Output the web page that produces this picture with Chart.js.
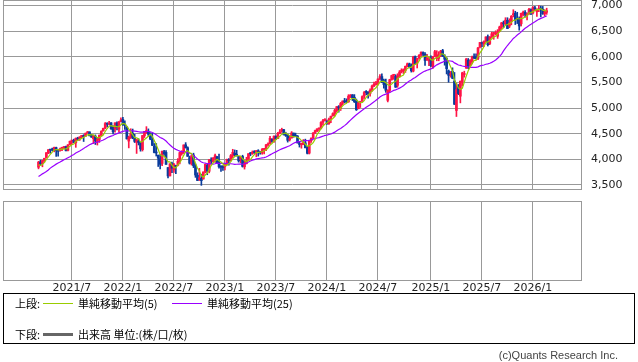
<!DOCTYPE html>
<html><head><meta charset="utf-8">
<script src="https://cdn.jsdelivr.net/npm/chart.js@4"></script>
<style>
html,body{margin:0;padding:0;background:#fff;width:638px;height:362px;overflow:hidden;position:relative}
canvas{position:absolute;left:0}
#c1{top:0}
#c2{top:195px}
.box{position:absolute;left:3px;top:293px;width:630px;height:49px;border:1px solid #000;box-sizing:content-box}
.t{position:absolute;font:11px 'Noto Sans CJK JP',sans-serif;color:#000;line-height:13px;white-space:nowrap}
.ln{position:absolute;height:1px}
.copy{position:absolute;right:20px;top:349px;font:11px 'Liberation Sans',sans-serif;color:#444;line-height:13px}
</style></head>
<body>
<canvas id="c1" width="638" height="195"></canvas>
<canvas id="c2" width="638" height="105"></canvas>
<div class="box"></div>
<div class="t" style="left:15px;top:297px">上段:</div>
<div class="ln" style="left:43px;top:303px;width:30px;background:#99cc00"></div>
<div class="t" style="left:78px;top:297px">単純移動平均(5)</div>
<div class="ln" style="left:172px;top:303px;width:30px;background:#9900ff"></div>
<div class="t" style="left:207px;top:297px">単純移動平均(25)</div>
<div class="t" style="left:15px;top:328px">下段:</div>
<div class="ln" style="left:43px;top:333px;width:30px;height:3px;background:#666"></div>
<div class="t" style="left:78px;top:328px">出来高 単位:(株/口/枚)</div>
<div class="copy">(c)Quants Research Inc.</div>
<script>
// Weekly candles (week starting Monday)
const weeks = [
'2021-03-08','2021-03-15','2021-03-22','2021-03-29','2021-04-05','2021-04-12','2021-04-19','2021-04-26','2021-05-03','2021-05-10','2021-05-17','2021-05-24','2021-05-31','2021-06-07','2021-06-14','2021-06-21','2021-06-28','2021-07-05','2021-07-12','2021-07-19','2021-07-26','2021-08-02','2021-08-09','2021-08-16','2021-08-23','2021-08-30','2021-09-06','2021-09-13','2021-09-20','2021-09-27','2021-10-04','2021-10-11','2021-10-18','2021-10-25','2021-11-01','2021-11-08','2021-11-15','2021-11-22','2021-11-29','2021-12-06','2021-12-13','2021-12-20','2021-12-27',
'2022-01-03','2022-01-10','2022-01-17','2022-01-24','2022-01-31','2022-02-07','2022-02-14','2022-02-21','2022-02-28','2022-03-07','2022-03-14','2022-03-21','2022-03-28','2022-04-04','2022-04-11','2022-04-18','2022-04-25','2022-05-02','2022-05-09','2022-05-16','2022-05-23','2022-05-30','2022-06-06','2022-06-13','2022-06-20','2022-06-27','2022-07-04','2022-07-11','2022-07-18','2022-07-25','2022-08-01','2022-08-08','2022-08-15','2022-08-22','2022-08-29','2022-09-05','2022-09-12','2022-09-19','2022-09-26','2022-10-03','2022-10-10','2022-10-17','2022-10-24','2022-10-31','2022-11-07','2022-11-14','2022-11-21','2022-11-28','2022-12-05','2022-12-12','2022-12-19','2022-12-26',
'2023-01-02','2023-01-09','2023-01-16','2023-01-23','2023-01-30','2023-02-06','2023-02-13','2023-02-20','2023-02-27','2023-03-06','2023-03-13','2023-03-20','2023-03-27','2023-04-03','2023-04-10','2023-04-17','2023-04-24','2023-05-01','2023-05-08','2023-05-15','2023-05-22','2023-05-29','2023-06-05','2023-06-12','2023-06-19','2023-06-26','2023-07-03','2023-07-10','2023-07-17','2023-07-24','2023-07-31','2023-08-07','2023-08-14','2023-08-21','2023-08-28','2023-09-04','2023-09-11','2023-09-18','2023-09-25','2023-10-02','2023-10-09','2023-10-16','2023-10-23','2023-10-30','2023-11-06','2023-11-13','2023-11-20','2023-11-27','2023-12-04','2023-12-11','2023-12-18','2023-12-25',
'2024-01-01','2024-01-08','2024-01-15','2024-01-22','2024-01-29','2024-02-05','2024-02-12','2024-02-19','2024-02-26','2024-03-04','2024-03-11','2024-03-18','2024-03-25','2024-04-01','2024-04-08','2024-04-15','2024-04-22','2024-04-29','2024-05-06','2024-05-13','2024-05-20','2024-05-27','2024-06-03','2024-06-10','2024-06-17','2024-06-24','2024-07-01','2024-07-08','2024-07-15','2024-07-22','2024-07-29','2024-08-05','2024-08-12','2024-08-19','2024-08-26','2024-09-02','2024-09-09','2024-09-16','2024-09-23','2024-09-30','2024-10-07','2024-10-14','2024-10-21','2024-10-28','2024-11-04','2024-11-11','2024-11-18','2024-11-25','2024-12-02','2024-12-09','2024-12-16','2024-12-23','2024-12-30',
'2025-01-06','2025-01-13','2025-01-20','2025-01-27','2025-02-03','2025-02-10','2025-02-17','2025-02-24','2025-03-03','2025-03-10','2025-03-17','2025-03-24','2025-03-31','2025-04-07','2025-04-14','2025-04-21','2025-04-28','2025-05-05','2025-05-12','2025-05-19','2025-05-26','2025-06-02','2025-06-09','2025-06-16','2025-06-23','2025-06-30','2025-07-07','2025-07-14','2025-07-21','2025-07-28','2025-08-04','2025-08-11','2025-08-18','2025-08-25','2025-09-01','2025-09-08','2025-09-15','2025-09-22','2025-09-29','2025-10-06','2025-10-13','2025-10-20','2025-10-27','2025-11-03','2025-11-10','2025-11-17','2025-11-24','2025-12-01','2025-12-08','2025-12-15','2025-12-22','2025-12-29',
'2026-01-05','2026-01-12','2026-01-19','2026-01-26','2026-02-02','2026-02-09','2026-02-16','2026-02-23'];

const opens = [
3844,3949,3917,3975,4034,4124,4185,4185,4192,4228,4169,4168,4216,4230,4248,4174,4290,4356,4372,4320,4409,4406,4439,4462,4450,4513,4535,4469,4402,4450,4349,4385,4472,4553,4610,4697,4689,4712,4640,4592,4710,4587,4733,
4778,4666,4632,4356,4431,4505,4412,4332,4354,4323,4188,4462,4541,4547,4474,4385,4253,4130,4081,4013,3919,4148,4134,3838,3675,3913,3792,3880,3883,3966,4112,4155,4282,4226,4034,3910,4083,3871,3687,3610,3627,3614,3754,3881,3765,3982,3956,4019,4053,3954,3853,3843,
3853,3911,3999,3979,4070,4119,4096,4053,3988,4055,3853,3917,3982,4109,4110,4140,4134,4166,4128,4126,4190,4200,4282,4308,4396,4354,4450,4405,4502,4555,4578,4479,4468,4380,4416,4511,4458,4453,4310,4284,4289,4320,4225,4120,4364,4416,4511,4555,4594,4610,4725,4758,
4745,4697,4781,4848,4892,4950,5026,4988,5094,5135,5124,5123,5234,5257,5211,5149,4987,5114,5142,5233,5311,5316,5283,5341,5432,5459,5472,5573,5615,5535,5476,5151,5344,5558,5640,5623,5443,5612,5712,5726,5737,5820,5862,5827,5722,6005,5875,5982,6040,6085,6054,5941,
5920,5982,5801,6014,5969,5970,6046,6120,6014,5969,5725,5655,5718,5528,4953,5412,5232,5508,5655,5781,5938,5828,5897,6004,6004,5969,6193,6270,6255,6304,6393,6260,6397,6455,6445,6402,6498,6584,6661,6648,6713,6600,6690,6822,6851,6744,6730,6645,6826,6870,6815,6840,6925,6860,6950,6880,6920,6940,6930,6840,6870];

const highs = [
3960,3983,3978,4020,4129,4191,4194,4218,4238,4237,4188,4218,4234,4249,4258,4286,4356,4372,4393,4416,4430,4440,4468,4480,4513,4545,4536,4486,4465,4476,4429,4475,4559,4608,4718,4714,4743,4717,4652,4713,4731,4740,4808,
4818,4749,4632,4453,4596,4590,4489,4385,4402,4324,4465,4546,4637,4593,4520,4512,4308,4307,4081,4090,4158,4177,4168,3838,3913,3945,3919,3881,4013,4140,4167,4280,4325,4244,4062,4076,4119,3907,3736,3823,3710,3753,3907,3912,3993,4029,4034,4101,4053,4101,3876,3878,
3906,4003,4015,4094,4195,4182,4175,4054,4048,4079,3962,4039,4110,4133,4163,4169,4170,4187,4154,4212,4212,4290,4322,4448,4400,4458,4456,4528,4579,4607,4584,4528,4491,4459,4541,4513,4511,4465,4333,4317,4385,4393,4256,4366,4415,4521,4568,4595,4609,4738,4778,4794,
4755,4802,4842,4907,4975,5030,5048,5111,5140,5189,5180,5262,5264,5264,5263,5176,5114,5128,5239,5325,5342,5316,5375,5448,5505,5524,5570,5655,5670,5566,5566,5358,5563,5643,5651,5651,5670,5733,5767,5765,5822,5879,5878,5863,6012,6018,5972,6044,6099,6100,6085,6050,
5993,6022,6012,6128,6120,6101,6127,6147,6043,5986,5743,5715,5786,5695,5482,5460,5528,5700,5720,5969,5968,5946,6016,6059,6060,6187,6284,6290,6315,6390,6428,6395,6481,6478,6509,6532,6600,6672,6699,6764,6764,6744,6808,6920,6890,6870,6780,6855,6895,6901,6860,6945,6940,6980,6986,6940,7002,6990,6985,6920,6950];

const lows = [
3813,3885,3853,3943,4028,4109,4118,4164,4145,4056,4061,4156,4168,4203,4165,4164,4279,4292,4321,4233,4366,4368,4420,4347,4444,4513,4456,4427,4306,4288,4278,4329,4461,4551,4596,4630,4672,4585,4495,4531,4572,4531,4733,
4662,4582,4395,4222,4405,4401,4327,4114,4279,4158,4161,4424,4506,4450,4381,4267,4124,4063,3859,3811,3875,4074,3900,3637,3675,3738,3742,3721,3872,3910,4079,4112,4218,4057,3906,3886,3837,3647,3584,3584,3491,3614,3733,3698,3735,3906,3938,3940,3918,3827,3765,3783,
3794,3887,3886,3966,4032,4061,4061,3944,3928,3847,3808,3908,3971,4069,4095,4113,4049,4062,4099,4098,4103,4166,4258,4301,4328,4328,4385,4403,4499,4527,4474,4446,4335,4356,4414,4431,4446,4316,4238,4216,4283,4223,4104,4103,4329,4406,4507,4537,4547,4593,4668,4751,
4682,4682,4714,4842,4846,4919,4920,4953,5057,5098,5104,5111,5204,5146,5108,4953,4984,5011,5114,5186,5257,5191,5234,5325,5420,5447,5447,5552,5497,5390,5307,5120,5306,5543,5560,5403,5406,5604,5686,5674,5696,5805,5782,5702,5706,5853,5783,5956,6015,6024,5833,5932,
5829,5809,5773,6004,5923,5923,6003,6008,5837,5666,5505,5602,5572,5069,4835,5262,5101,5434,5603,5773,5768,5825,5862,5963,5953,5943,6176,6201,6201,6282,6212,6238,6376,6343,6427,6360,6494,6551,6570,6621,6550,6570,6625,6780,6631,6650,6521,6602,6799,6777,6720,6830,6825,6840,6900,6790,6880,6780,6830,6800,6830];

const closes = [
3943,3913,3975,4020,4129,4185,4180,4181,4233,4174,4156,4204,4230,4247,4166,4281,4352,4370,4327,4411,4395,4437,4468,4442,4509,4535,4458,4433,4455,4357,4391,4471,4545,4605,4697,4683,4698,4595,4538,4712,4621,4726,4766,
4677,4663,4398,4432,4501,4418,4349,4385,4329,4204,4463,4543,4546,4488,4393,4272,4132,4123,4024,3901,4158,4109,3901,3675,3912,3825,3899,3863,3962,4130,4145,4280,4228,4057,3924,4067,3873,3693,3586,3640,3583,3753,3901,3771,3993,3965,4026,4072,3934,3852,3845,3840,
3895,3999,3973,4071,4136,4090,4079,3970,4045,3861,3917,3971,4109,4105,4138,4133,4169,4136,4124,4192,4205,4282,4299,4410,4348,4450,4399,4505,4536,4582,4478,4464,4370,4406,4515,4457,4450,4320,4288,4309,4327,4224,4117,4358,4415,4514,4559,4595,4604,4719,4755,4770,
4697,4784,4840,4891,4959,5027,5006,5089,5137,5124,5117,5234,5254,5204,5123,4967,5100,5128,5223,5303,5305,5278,5347,5431,5465,5460,5567,5615,5505,5459,5347,5344,5554,5634,5648,5408,5626,5703,5738,5751,5815,5865,5808,5729,5995,5870,5969,6032,6090,6051,5931,5971,
5942,5827,5997,6101,6041,6026,6115,6013,5955,5770,5639,5668,5581,5074,5363,5282,5525,5687,5660,5958,5803,5912,6000,5977,5968,6173,6280,6260,6297,6389,6238,6389,6450,6467,6460,6482,6584,6664,6644,6716,6553,6664,6792,6840,6729,6734,6603,6849,6870,6827,6834,6929,6858,6966,6940,6915,6939,6932,6840,6880,6900];

// Weekly closes of the 24 weeks before the first candle (needed for the moving averages)
const priorCloses = [3298,3348,3477,3484,3465,3270,3510,3585,3558,3638,3699,3663,3709,3703,3756,3825,3768,3841,3714,3887,3934,3907,3811,3841];

const yTicks = [3500,4000,4500,5000,5500,6000,6500,7000];
const xTickLabels = ['2021/7','2022/1','2022/7','2023/1','2023/7','2024/1','2024/7','2025/1','2025/7','2026/1'];

const RED = '#ff1446', BLUE = '#0a3c9c', GRID = '#999999';

function sma(p){
  const all = priorCloses.concat(closes);
  return closes.map((_, i) => {
    const end = priorCloses.length + i;
    let s = 0;
    for (let k = end - p + 1; k <= end; k++) s += all[k];
    return s / p;
  });
}
const ma5 = sma(5), ma25 = sma(25);
const tickIdx = xTickLabels.map(l => {
  const [y, m] = l.split('/').map(Number);
  return weeks.findIndex(w => { const d = w.split('-').map(Number); return d[0] === y && d[1] === m; });
});
const colors = closes.map((c, i) => c >= opens[i] ? RED : BLUE);

Chart.defaults.font.family = "'DejaVu Sans', sans-serif";
Chart.defaults.font.size = 11;
Chart.defaults.color = '#222';

const frame = { id: 'frame', afterDraw(chart){
  const a = chart.chartArea, ctx = chart.ctx;
  const L = Math.round(a.left), T = Math.round(a.top), R = Math.round(a.right), B = Math.round(a.bottom);
  ctx.save(); ctx.strokeStyle = GRID; ctx.lineWidth = 1;
  ctx.strokeRect(L + 0.5, T + 0.5, R - L - 1, B - T - 1);
  ctx.restore();
}};
const noPad = ax => { ax.paddingTop = 0; ax.paddingBottom = 0; ax.paddingLeft = 0; ax.paddingRight = 0; };

function xScale(showLabels, h){
  return {
    type: 'linear', min: -18.1, max: 277, offset: false,
    afterBuildTicks: ax => { ax.ticks = tickIdx.map(v => ({ value: v })); },
    afterFit: ax => { ax.height = h; noPad(ax); },
    grid: { color: GRID, lineWidth: 1, drawTicks: false, offset: false },
    border: { display: false },
    ticks: { display: showLabels, autoSkip: false, maxRotation: 0, padding: 1,
      font: { size: 11 }, color: '#222',
      callback: (v, i) => xTickLabels[i] }
  };
}

new Chart(document.getElementById('c1'), {
  type: 'bar',
  data: { datasets: [
    { type: 'line', data: ma5.map((y, i) => ({ x: i, y })), borderColor: '#99cc00', borderWidth: 1.2, pointRadius: 0, tension: 0, order: 0 },
    { type: 'line', data: ma25.map((y, i) => ({ x: i, y })), borderColor: '#9900ff', borderWidth: 1.2, pointRadius: 0, tension: 0, order: 0 },
    { type: 'bar', data: closes.map((c, i) => ({ x: i, y: [opens[i], c] })), backgroundColor: colors, barThickness: 2, minBarLength: 1, grouped: false, order: 1 },
    { type: 'bar', data: closes.map((c, i) => ({ x: i, y: [lows[i], highs[i]] })), backgroundColor: colors, barThickness: 1, grouped: false, order: 2 }
  ]},
  options: {
    responsive: false, animation: false, devicePixelRatio: 1,
    layout: { padding: { left: 3, top: 0, right: 0, bottom: 5 } },
    plugins: { legend: { display: false }, tooltip: { enabled: false } },
    scales: {
      x: xScale(false, 0),
      y: { position: 'right', min: 3400, max: 7110,
        afterBuildTicks: ax => { ax.ticks = yTicks.map(v => ({ value: v })); },
        afterFit: ax => { ax.width = 56; noPad(ax); },
        grid: { color: GRID, lineWidth: 1, drawTicks: false },
        border: { display: false },
        ticks: { padding: 9, font: { size: 11 }, color: '#222', callback: v => v.toLocaleString('en-US') } }
    }
  },
  plugins: [frame]
});

new Chart(document.getElementById('c2'), {
  type: 'bar',
  data: { datasets: [] },
  options: {
    responsive: false, animation: false, devicePixelRatio: 1,
    layout: { padding: { left: 3, top: 6, right: 56, bottom: 0 } },
    plugins: { legend: { display: false }, tooltip: { enabled: false } },
    scales: {
      x: xScale(true, 19),
      y: { display: false, min: 0, max: 1 }
    }
  },
  plugins: [frame]
});
</script>
</body></html>
